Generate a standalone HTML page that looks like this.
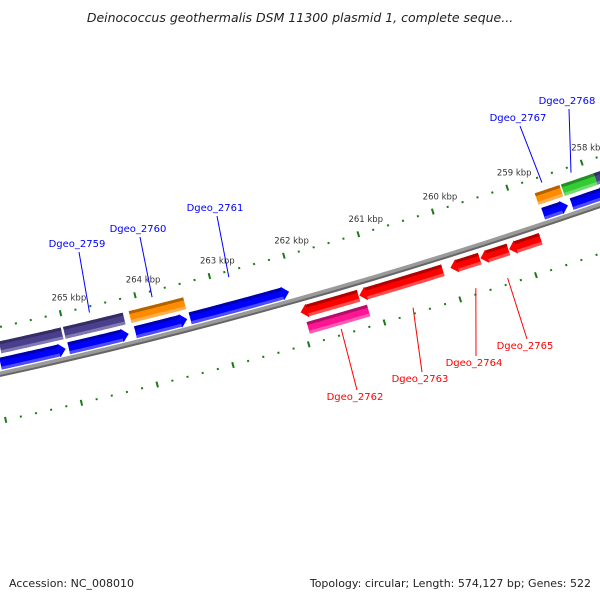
<!DOCTYPE html>
<html><head><meta charset="utf-8"><style>
html,body{margin:0;padding:0;background:#fff;}
svg{display:block;font-family:"DejaVu Sans","Liberation Sans",sans-serif;}
</style></head><body>
<svg id="map" width="600" height="600" viewBox="0 0 600 600" xmlns="http://www.w3.org/2000/svg">
<rect width="600" height="600" fill="#fff"/>
<text x="300" y="22" text-anchor="middle" font-size="12.5" font-style="italic" fill="#222">Deinococcus geothermalis DSM 11300 plasmid 1, complete seque...</text>
<g id="ring"></g>
<g id="genes"></g>
<g id="labels"></g>
<text x="9" y="587" font-size="11" fill="#222">Accession: NC_008010</text>
<text x="591" y="587" text-anchor="end" font-size="11" fill="#222">Topology: circular; Length: 574,127 bp; Genes: 522</text>
</svg>
<script>
// data
const tickLabels = [265,264,263,262,261,260,259,258];
const geneStarts = [265.91,265.00,264.11,263.38,258.67,258.29, 265.87,265.01,264.13,258.69,258.34,257.90, 261.99,261.21,260.00,259.60,259.22, 261.95];
const geneEnds   = [265.04,264.20,263.42,262.06,258.34,257.80, 265.04,264.21,263.40,258.36,257.90,257.70, 261.22,260.10,259.61,259.23,258.80, 261.15];
const geneTracks = [1,1,1,1,1,1, 2,2,2,2,2,2, -1,-1,-1,-1,-1, -2];
const geneColors = ["#0000ff","#0000ff","#0000ff","#0000ff","#0000ff","#0000ff","#4a3f8c","#4a3f8c","#ff8c00","#ff8c00","#33cc33","#4a3f8c","#ff0000","#ff0000","#ff0000","#ff0000","#ff0000","#ff1493"];
const geneArrow  = [1,1,1,1,1,1, 0,0,0,0,0,0, 1,1,1,1,1, 0];
const labelNames = ["Dgeo_2759","Dgeo_2760","Dgeo_2761","Dgeo_2767","Dgeo_2768","Dgeo_2762","Dgeo_2763","Dgeo_2764","Dgeo_2765"];
const labelKbp   = [264.63,263.79,262.76,258.56,258.17,261.55,260.60,259.77,259.35];
const labelSide  = [1,1,1,1,1,-1,-1,-1,-1];
const labelTextX = [77,138,215,518,567,355,420,474,525];
const labelTextY = [247,232,211,121,104,400,382,366,349];

const NS="http://www.w3.org/2000/svg";
function xb(k){return 71+(265-k)*75.1;}
function P(k,d){const x=xb(k);const y=374-0.2183*x-1.056e-4*x*x;const m=-0.2183-2.112e-4*x;const L=Math.sqrt(1+m*m);return [x+m/L*d, y-d/L];}
function mk(tag,attrs,parent){const e=document.createElementNS(NS,tag);for(const a in attrs)e.setAttribute(a,attrs[a]);parent.appendChild(e);return e;}
function band(k1,k2,d1,d2){const pts=[];const n=20;for(let i=0;i<=n;i++){pts.push(P(k1+(k2-k1)*i/n,d2));}for(let i=n;i>=0;i--){pts.push(P(k1+(k2-k1)*i/n,d1));}return pts.map(p=>p[0].toFixed(1)+","+p[1].toFixed(1)).join(" ");}

const ring=document.getElementById('ring');
const bb=mk('polygon',{points:band(267,257,-2.5,2.5),fill:'#9a9a9a'},ring);


const bb2=mk('polygon',{points:band(267,257,-3,-1),fill:'#666'},ring);


for(let i=0;i<=55;i++){
  const k=267-i*0.2; const major=Math.abs(k-Math.round(k))<0.01;
  [46,-46].forEach(d=>{
    let a,b;
    if(major){a=P(k,d-3);b=P(k,d+3);}else{a=P(k,d-1);b=P(k,d+1);}
    const t=mk('line',{x1:a[0],y1:a[1],x2:b[0],y2:b[1],stroke:'#1a7a1a','stroke-width':2},ring);
    
    
  });
}
tickLabels.forEach(k=>{const p=P(k,62);const t=mk('text',{x:p[0]+12,y:p[1]+3,'text-anchor':'middle','font-size':'8.5',fill:'#333'},ring);t.textContent=k+' kbp';

});

const gg=document.getElementById('genes');
function shade(c,f){const n=parseInt(c.slice(1),16);let r=n>>16,g=(n>>8)&255,b=n&255;if(f<0){r*=1+f;g*=1+f;b*=1+f;}else{r+=(255-r)*f;g+=(255-g)*f;b+=(255-b)*f;}return 'rgb('+Math.round(r)+','+Math.round(g)+','+Math.round(b)+')';}
geneStarts.forEach((s,i)=>{
  const e=geneEnds[i];const tr=geneTracks[i];
  const c=tr>0?(tr===1?10:26):(tr===-1?-13:-30);
  const d1=c-6,d2=c+6;
  let pts, a=s, b=e;
  if(geneArrow[i]){
    const dir=tr>0?-1:1;
    const tip=tr>0?e:s; const h=0.09;
    const tail=tr>0?s:e; const neck=tip-dir*h;
    const A=[...[...Array(11).keys()].map(j=>P(tail+(neck-tail)*j/10,d2)),P(neck,d2+1),P(tip,c),P(neck,d1-1),...[...Array(11).keys()].map(j=>P(neck+(tail-neck)*j/10,d1))];
    pts=A.map(p=>p[0].toFixed(1)+","+p[1].toFixed(1)).join(" ");
    a=tail;b=neck;
  } else pts=band(s,e,d1,d2);
  const g=mk('g',{},gg);
  
  
  mk('polygon',{points:pts,fill:geneColors[i]},g);
  mk('polygon',{points:band(a,b,d2-3,d2),fill:shade(geneColors[i],-0.3)},g);
  mk('polygon',{points:band(a,b,d1,d1+3),fill:shade(geneColors[i],0.3)},g);
});

const lg=document.getElementById('labels');
labelNames.forEach((n,i)=>{
  const up=labelSide[i]>0; const col=up?'#0000ff':'#ff0000';
  const p=P(labelKbp[i],up?40:-40);
  const ty=labelTextY[i]; const lx=labelTextX[i];
  const l=mk('line',{x1:p[0],y1:p[1],x2:lx+2,y2:up?ty+5:ty-10,stroke:col,'stroke-width':1},lg);
  
  
  const t=mk('text',{x:lx,y:ty,'text-anchor':'middle','font-size':'10',fill:col},lg);
  t.textContent=n;
  
  
});
</script>
</body></html>
